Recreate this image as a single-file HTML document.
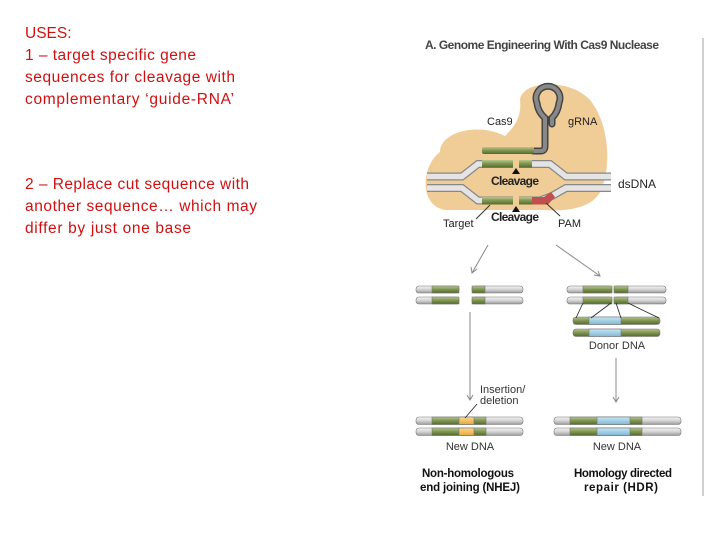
<!DOCTYPE html>
<html><head><meta charset="utf-8"><style>
html,body{margin:0;padding:0;background:#fff;width:720px;height:540px;overflow:hidden}
</style></head><body>
<svg width="720" height="540" viewBox="0 0 720 540" xmlns="http://www.w3.org/2000/svg">
<defs>
<linearGradient id="gy" x1="0" y1="0" x2="0" y2="1"><stop offset="0" stop-color="#f4f4f4"/><stop offset="0.5" stop-color="#d4d4d4"/><stop offset="1" stop-color="#9a9a9a"/></linearGradient>
<linearGradient id="gr" x1="0" y1="0" x2="0" y2="1"><stop offset="0" stop-color="#b5c68c"/><stop offset="0.5" stop-color="#7e9450"/><stop offset="1" stop-color="#56692e"/></linearGradient>
<linearGradient id="bl" x1="0" y1="0" x2="0" y2="1"><stop offset="0" stop-color="#c6e6f4"/><stop offset="1" stop-color="#7fb8d4"/></linearGradient>
<linearGradient id="or" x1="0" y1="0" x2="0" y2="1"><stop offset="0" stop-color="#fbd88a"/><stop offset="1" stop-color="#e6a840"/></linearGradient>
</defs>
<g font-family="Liberation Sans, sans-serif" font-size="15.5" fill="#d01010">
<text x="25" y="38">USES:</text>
<text x="25" y="60" textLength="171">1 – target specific gene</text>
<text x="25" y="82" textLength="210">sequences for cleavage with</text>
<text x="25" y="104" textLength="209">complementary ‘guide-RNA’</text>
<text x="25" y="189" textLength="224">2 – Replace cut sequence with</text>
<text x="25" y="211" textLength="232">another sequence… which may</text>
<text x="25" y="233" textLength="166">differ by just one base</text>
</g>
<line x1="703" y1="38" x2="703" y2="496" stroke="#d0d0d0" stroke-width="2"/>
<text x="425" y="49" font-family="Liberation Sans, sans-serif" font-size="12" font-weight="bold" fill="#444" textLength="234">A. Genome Engineering With Cas9 Nuclease</text>
<!-- Cas9 blob -->
<path d="M445 210 C418 205 422 165 440 152 C440 132 478 122 505 136 C515 126 522 116 520 100 C522 80 570 78 590 100 C610 125 610 165 603 185 C598 205 575 212 545 210 Z" fill="#f0cc96"/>
<!-- gRNA -->
<path d="M533 151 L541 151 Q545 151 545 146 L545 118 Q538 112 537 103 A12 12 0 1 1 559 103 Q558 112 552 118 L552 124" fill="none" stroke="#444" stroke-width="7" stroke-linecap="round"/>
<path d="M533 151 L541 151 Q545 151 545 146 L545 118 Q538 112 537 103 A12 12 0 1 1 559 103 Q558 112 552 118 L552 124" fill="none" stroke="#888" stroke-width="4" stroke-linecap="round"/>
<rect x="482" y="147" width="52" height="7" rx="2" fill="url(#gr)"/>
<!-- DNA strands -->
<path d="M427 176.5 L462 176.5 L478 164 L513 164 M519 164 L533 164 L550 164 L566 176.5 L611 176.5" fill="none" stroke="#888" stroke-width="8"/>
<path d="M427 176.5 L462 176.5 L478 164 L513 164 M519 164 L533 164 L550 164 L566 176.5 L611 176.5" fill="none" stroke="#e4e4e4" stroke-width="5.5"/>
<path d="M427 188 L462 188 L478 200.5 L513 200.5 M519 200.5 L540 200.5 L552 196 L566 188 L611 188" fill="none" stroke="#888" stroke-width="8"/>
<path d="M427 188 L462 188 L478 200.5 L513 200.5 M519 200.5 L540 200.5 L552 196 L566 188 L611 188" fill="none" stroke="#e4e4e4" stroke-width="5.5"/>
<rect x="482" y="160" width="31" height="7.5" fill="url(#gr)"/>
<rect x="519" y="160" width="13" height="7.5" fill="url(#gr)"/>
<rect x="482" y="197" width="31" height="7.5" fill="url(#gr)"/>
<rect x="519" y="197" width="13" height="7.5" fill="url(#gr)"/>
<path d="M532 197 L544 197 L551 192 L555 197 L548 204.5 L532 204.5Z" fill="#c05050"/>
<g font-family="Liberation Sans, sans-serif" fill="#222">
<polygon points="516,168 512,174 520,174" fill="#111"/>
<text x="515" y="185" font-size="12" font-weight="bold" text-anchor="middle" textLength="48">Cleavage</text>
<polygon points="516,206 512,212 520,212" fill="#111"/>
<text x="515" y="221" font-size="12" font-weight="bold" text-anchor="middle" textLength="48">Cleavage</text>
<text x="487" y="125" font-size="11">Cas9</text>
<text x="568" y="125" font-size="11">gRNA</text>
<text x="618" y="188" font-size="12">dsDNA</text>
<text x="443" y="227" font-size="11">Target</text>
<text x="558" y="227" font-size="11">PAM</text>
<line x1="476" y1="219" x2="490" y2="205" stroke="#333" stroke-width="1"/>
<line x1="560" y1="216" x2="546" y2="203" stroke="#333" stroke-width="1"/>
</g>
<!-- arrows -->
<g stroke="#888" stroke-width="1" fill="none">
<line x1="488" y1="245" x2="472" y2="273"/><polyline points="471,267 472,273 477,269"/>
<line x1="556" y1="245" x2="600" y2="276"/><polyline points="594,275 600,276 598,271"/>
<line x1="470" y1="312" x2="470" y2="400"/><polyline points="467,395 470,400 473,395"/>
<line x1="616" y1="358" x2="616" y2="402"/><polyline points="613,397 616,402 619,397"/>
</g>
<!-- bars -->
<g stroke="#777" stroke-width="0.6">
<rect x="416" y="286" width="43" height="7" rx="3" fill="url(#gy)"/><rect x="432" y="286" width="27" height="7" fill="url(#gr)"/>
<rect x="416" y="297" width="43" height="7" rx="3" fill="url(#gy)"/><rect x="432" y="297" width="27" height="7" fill="url(#gr)"/>
<rect x="472" y="286" width="51" height="7" rx="3" fill="url(#gy)"/><rect x="472" y="286" width="13" height="7" fill="url(#gr)"/>
<rect x="472" y="297" width="51" height="7" rx="3" fill="url(#gy)"/><rect x="472" y="297" width="13" height="7" fill="url(#gr)"/>
<rect x="567" y="286" width="45" height="7" rx="3" fill="url(#gy)"/><rect x="583" y="286" width="29" height="7" fill="url(#gr)"/>
<rect x="567" y="297" width="45" height="7" rx="3" fill="url(#gy)"/><rect x="583" y="297" width="29" height="7" fill="url(#gr)"/>
<rect x="614" y="286" width="52" height="7" rx="3" fill="url(#gy)"/><rect x="614" y="286" width="14" height="7" fill="url(#gr)"/>
<rect x="614" y="297" width="52" height="7" rx="3" fill="url(#gy)"/><rect x="614" y="297" width="14" height="7" fill="url(#gr)"/>
<rect x="573" y="317" width="87" height="7.5" rx="3" fill="url(#gr)"/><rect x="589" y="317" width="32" height="7.5" fill="url(#bl)"/>
<rect x="573" y="329" width="87" height="7.5" rx="3" fill="url(#gr)"/><rect x="589" y="329" width="32" height="7.5" fill="url(#bl)"/>
<rect x="416" y="417" width="107" height="7.5" rx="3" fill="url(#gy)"/><rect x="432" y="417" width="54" height="7.5" fill="url(#gr)"/><rect x="459" y="417" width="15" height="7.5" fill="url(#or)"/>
<rect x="416" y="428" width="107" height="7.5" rx="3" fill="url(#gy)"/><rect x="432" y="428" width="54" height="7.5" fill="url(#gr)"/><rect x="459" y="428" width="15" height="7.5" fill="url(#or)"/>
<rect x="554" y="417" width="127" height="7.5" rx="3" fill="url(#gy)"/><rect x="570" y="417" width="72" height="7.5" fill="url(#gr)"/><rect x="597" y="417" width="33" height="7.5" fill="url(#bl)"/>
<rect x="554" y="428" width="127" height="7.5" rx="3" fill="url(#gy)"/><rect x="570" y="428" width="72" height="7.5" fill="url(#gr)"/><rect x="597" y="428" width="33" height="7.5" fill="url(#bl)"/>
</g>
<g stroke="#222" stroke-width="0.8">
<line x1="583" y1="303" x2="576" y2="318"/><line x1="611" y1="303" x2="591" y2="318"/>
<line x1="628" y1="303" x2="659" y2="318"/><line x1="616" y1="303" x2="621" y2="318"/>
<line x1="477" y1="404" x2="465" y2="418"/>
</g>
<g font-family="Liberation Sans, sans-serif" fill="#333" font-size="11">
<text x="617" y="349" text-anchor="middle">Donor DNA</text>
<text x="480" y="393">Insertion/</text>
<text x="480" y="404">deletion</text>
<text x="470" y="450" text-anchor="middle">New DNA</text>
<text x="617" y="450" text-anchor="middle">New DNA</text>
<g font-weight="bold" fill="#111" font-size="11.5">
<text x="468" y="477" text-anchor="middle" textLength="92">Non-homologous</text>
<text x="470" y="491" text-anchor="middle" textLength="100">end joining (NHEJ)</text>
<text x="623" y="477" text-anchor="middle" textLength="98">Homology directed</text>
<text x="621" y="491" text-anchor="middle" textLength="74">repair (HDR)</text>
</g>
</g>
</svg>
</body></html>
